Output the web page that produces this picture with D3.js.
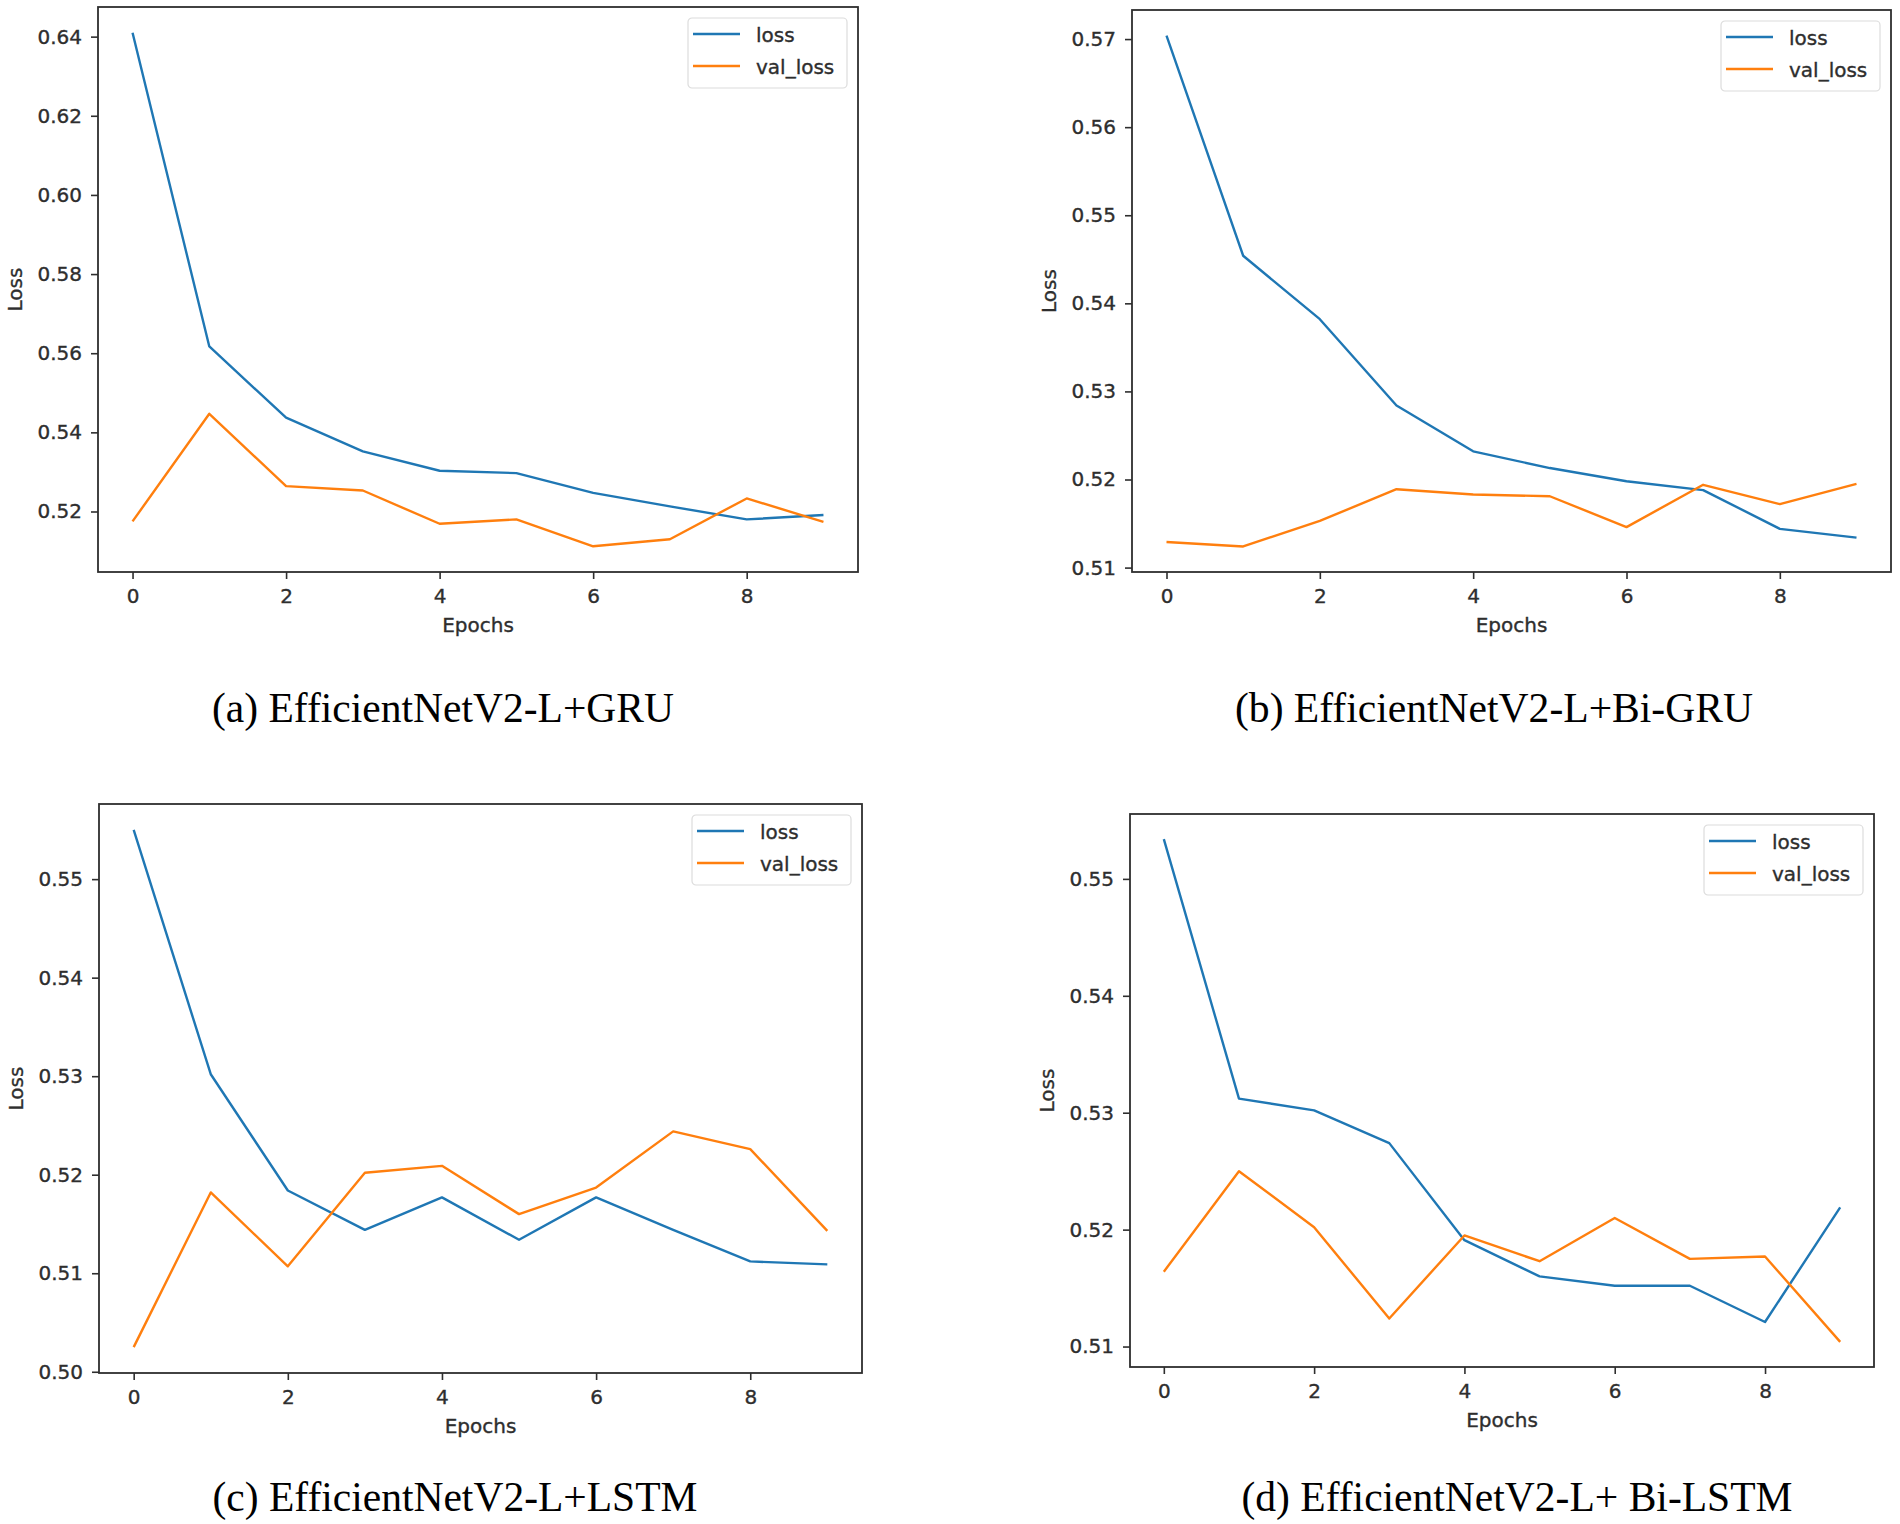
<!DOCTYPE html>
<html>
<head>
<meta charset="utf-8">
<script src="https://cdn.jsdelivr.net/npm/d3@7"></script>
<style>
  html, body { margin: 0; padding: 0; background: #fff; }
  svg { display: block; }
</style>
</head>
<body>
<div id="chart"></div>
<script>
'use strict';

// epochs on the x axis
var epochs = [0, 1, 2, 3, 4, 5, 6, 7, 8, 9];
var xTicks = [0, 2, 4, 6, 8];

// (a) EfficientNetV2-L+GRU
var lossA    = [0.641, 0.5617, 0.5437, 0.5352, 0.5303, 0.5297, 0.5247, 0.5213, 0.5180, 0.5191];
var valLossA = [0.5175, 0.5447, 0.5264, 0.5253, 0.5169, 0.5180, 0.5112, 0.5130, 0.5233, 0.5174];
var yTicksA  = [0.52, 0.54, 0.56, 0.58, 0.60, 0.62, 0.64];

// (b) EfficientNetV2-L+Bi-GRU
var lossB    = [0.5704, 0.5454, 0.5382, 0.5284, 0.5232, 0.5213, 0.5198, 0.5188, 0.5144, 0.5134];
var valLossB = [0.5129, 0.5124, 0.5153, 0.5189, 0.5183, 0.5181, 0.5146, 0.5194, 0.5172, 0.5195];
var yTicksB  = [0.51, 0.52, 0.53, 0.54, 0.55, 0.56, 0.57];

// (c) EfficientNetV2-L+LSTM
var lossC    = [0.5550, 0.5302, 0.5184, 0.5144, 0.5177, 0.5134, 0.5177, 0.5144, 0.5112, 0.5109];
var valLossC = [0.5025, 0.5182, 0.5107, 0.5202, 0.5209, 0.5160, 0.5187, 0.5244, 0.5226, 0.5143];
var yTicksC  = [0.50, 0.51, 0.52, 0.53, 0.54, 0.55];

// (d) EfficientNetV2-L+ Bi-LSTM
var lossD    = [0.5534, 0.5312, 0.5302, 0.5274, 0.5191, 0.5160, 0.5152, 0.5152, 0.5121, 0.5219];
var valLossD = [0.5164, 0.5250, 0.5202, 0.5124, 0.5195, 0.5173, 0.5210, 0.5175, 0.5177, 0.5104];
var yTicksD  = [0.51, 0.52, 0.53, 0.54, 0.55];

var seriesNames = ['loss', 'val_loss'];
var seriesColors = ['#1f77b4', '#ff7f0e'];
var captions = [
    '(a) EfficientNetV2-L+GRU',
    '(b) EfficientNetV2-L+Bi-GRU',
    '(c) EfficientNetV2-L+LSTM',
    '(d) EfficientNetV2-L+ Bi-LSTM'
];

// frame boxes and caption placement for each panel
var panels = [
    {loss: lossA, val: valLossA, yTicks: yTicksA, x0: 98,   x1: 858,  y0: 7,   y1: 572,  capX: 443,  capY: 722,  capW: 462},
    {loss: lossB, val: valLossB, yTicks: yTicksB, x0: 1132, x1: 1891, y0: 10,  y1: 572,  capX: 1494, capY: 722,  capW: 518},
    {loss: lossC, val: valLossC, yTicks: yTicksC, x0: 99,   x1: 862,  y0: 804, y1: 1373, capX: 455,  capY: 1511, capW: 485},
    {loss: lossD, val: valLossD, yTicks: yTicksD, x0: 1130, x1: 1874, y0: 814, y1: 1367, capX: 1517, capY: 1511, capW: 551}
];

var W = 1900, H = 1524;
var textColor = '#2e2e2e';
var tickFont = '"DejaVu Sans", sans-serif';

var svg = d3.select('#chart')
    .append('svg')
    .attr('width', W)
    .attr('height', H);

// small helper so all the matplotlib-ish labels look the same
function styleLabel(sel) {
    return sel.attr('fill', textColor)
        .attr('stroke', textColor)
        .attr('stroke-width', 0.35)
        .style('font-family', tickFont)
        .style('font-size', '20px');
}

panels.forEach(function (p, i) {
    var g = svg.append('g');

    // matplotlib style 5% margins
    var xExt = d3.extent(epochs);
    var xPad = (xExt[1] - xExt[0]) * 0.05;
    var yExt = d3.extent(p.loss.concat(p.val));
    var yPad = (yExt[1] - yExt[0]) * 0.05;

    var x = d3.scaleLinear()
        .domain([xExt[0] - xPad, xExt[1] + xPad])
        .range([p.x0, p.x1]);
    var y = d3.scaleLinear()
        .domain([yExt[0] - yPad, yExt[1] + yPad])
        .range([p.y1, p.y0]);

    // series
    var line = d3.line()
        .x(function (d, k) { return x(epochs[k]); })
        .y(function (d) { return y(d); });

    [p.loss, p.val].forEach(function (vals, s) {
        g.append('path')
            .datum(vals)
            .attr('fill', 'none')
            .attr('stroke', seriesColors[s])
            .attr('stroke-width', 2.4)
            .attr('stroke-linejoin', 'round')
            .attr('d', line);
    });

    // axes
    var xAxis = g.append('g')
        .attr('transform', 'translate(0,' + p.y1 + ')')
        .call(d3.axisBottom(x).tickValues(xTicks).tickSize(7).tickPadding(10).tickFormat(d3.format('d')));
    var yAxis = g.append('g')
        .attr('transform', 'translate(' + p.x0 + ',0)')
        .call(d3.axisLeft(y).tickValues(p.yTicks).tickSize(7).tickPadding(9).tickFormat(d3.format('.2f')));

    [xAxis, yAxis].forEach(function (ax) {
        ax.select('.domain').remove();
        ax.selectAll('.tick line').attr('stroke', textColor).attr('stroke-width', 1.6);
        styleLabel(ax.selectAll('.tick text'));
    });

    // frame
    g.append('rect')
        .attr('x', p.x0)
        .attr('y', p.y0)
        .attr('width', p.x1 - p.x0)
        .attr('height', p.y1 - p.y0)
        .attr('fill', 'none')
        .attr('stroke', textColor)
        .attr('stroke-width', 1.8);

    // axis labels
    styleLabel(g.append('text'))
        .attr('x', (p.x0 + p.x1) / 2)
        .attr('y', p.y1 + 60)
        .attr('text-anchor', 'middle')
        .text('Epochs');

    styleLabel(g.append('text'))
        .attr('transform', 'translate(' + (p.x0 - 76) + ',' + ((p.y0 + p.y1) / 2) + ') rotate(-90)')
        .attr('text-anchor', 'middle')
        .text('Loss');

    // legend
    var lw = 159, lh = 70;
    var lg = g.append('g')
        .attr('transform', 'translate(' + (p.x1 - 11 - lw) + ',' + (p.y0 + 11) + ')');
    lg.append('rect')
        .attr('width', lw)
        .attr('height', lh)
        .attr('rx', 4)
        .attr('fill', '#fff')
        .attr('fill-opacity', 0.8)
        .attr('stroke', '#dcdcdc')
        .attr('stroke-width', 1.2);
    seriesNames.forEach(function (name, s) {
        var ry = 16 + s * 32;
        lg.append('line')
            .attr('x1', 5).attr('x2', 52)
            .attr('y1', ry).attr('y2', ry)
            .attr('stroke', seriesColors[s])
            .attr('stroke-width', 2.4);
        styleLabel(lg.append('text'))
            .attr('x', 68)
            .attr('y', ry + 7.5)
            .text(name);
    });

    // caption
    svg.append('text')
        .attr('x', p.capX)
        .attr('y', p.capY)
        .attr('text-anchor', 'middle')
        .attr('textLength', p.capW)
        .attr('lengthAdjust', 'spacingAndGlyphs')
        .attr('fill', '#000')
        .style('font-family', '"Liberation Serif", "Times New Roman", serif')
        .style('font-size', '42px')
        .text(captions[i]);
});
</script>
</body>
</html>
